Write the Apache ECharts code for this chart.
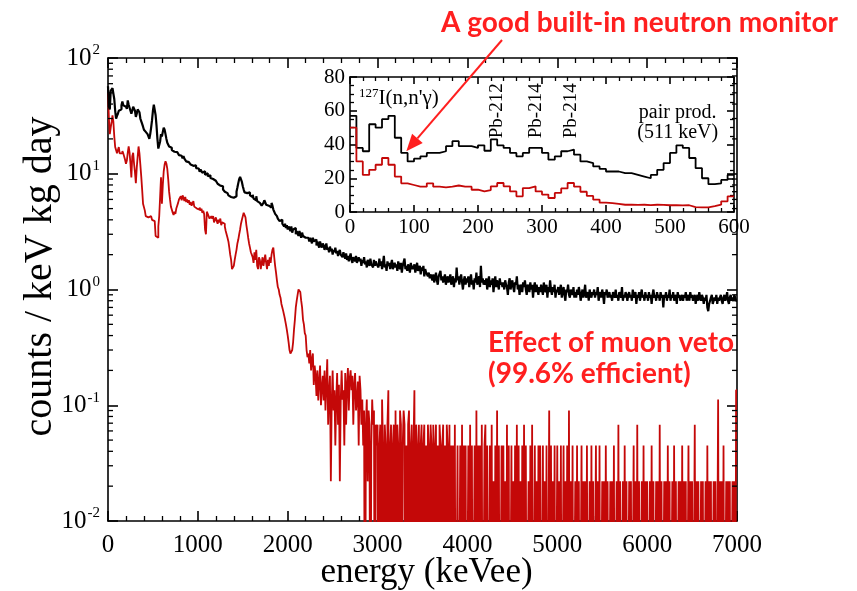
<!DOCTYPE html>
<html>
<head>
<meta charset="utf-8">
<script src="https://cdn.jsdelivr.net/npm/echarts@6/dist/echarts.min.js"></script>
<style>
  html, body { margin: 0; padding: 0; background: #ffffff; }
  #chart { width: 857px; height: 591px; }
</style>
</head>
<body>
<div id="chart"></div>
<script>
// Low-energy part of the spectrum, counts / keV kg day, 10 keV bins from 0 to 600 keV
const BIN_KEV = 10;
const lowAllEvents = [
  57, 38, 36, 52, 50, 55, 57, 44, 35, 30,
  31.6, 33, 35, 35, 36, 39, 42, 39, 39, 38,
  39.5, 36.3, 43, 39.5, 38, 35, 33, 35, 38, 38,
  35, 31, 33, 36, 37, 34, 30, 29, 27, 25.5,
  24, 24, 23, 23, 22, 21, 20, 22, 25, 29,
  35, 39.5, 38, 32, 26, 20, 16.5, 17, 19, 22
];
const lowVetoed = [
  50, 30, 22, 25, 28, 32, 28, 21, 17, 16,
  15, 15, 17, 15, 14.6, 15, 15.7, 15, 15, 13.2,
  12.2, 13, 15.2, 17.2, 15.2, 12.2, 9.3, 14.2, 15.2, 12.2,
  10.3, 8.3, 11.3, 14, 17.2, 15, 12, 9.5, 7.3, 5.5,
  5.3, 4.8, 4.3, 4.3, 4.2, 4.3, 4.1, 4.3, 4.2, 4.0,
  4.0, 3.9, 4.0, 2.9, 2.8, 2.8, 3.5, 4.3, 6.3, 9.3
];

// Rest of the spectrum, 10 keV bins from 600 to 7000 keV
const highAllEvents = [
  21, 23, 25, 24, 22, 20, 18.5, 17.8, 17.2, 16.6, 16.8, 16.0, 16.2, 15.5, 15.9, 15.2, 15.4, 14.9, 15.1, 14.5,
  14.8, 14.3, 14.0, 13.6, 14.2, 13.5, 13.2, 12.8, 13.1, 12.6, 12.3, 12.7, 12.0, 12.4, 11.7, 11.9, 11.5, 11.8, 11.2, 11.0,
  11.1, 10.7, 10.4, 10.9, 10.6, 10.2, 10.0, 10.5, 9.8, 9.6, 10.1, 9.5, 9.3, 9.7, 9.2, 9.5, 9.0, 9.3, 8.9, 8.7,
  8.9, 8.4, 8.2, 8.5, 7.9, 8.1, 7.6, 7.8, 7.3, 7.5, 7.0, 7.2, 6.8, 6.9, 6.5, 6.7, 6.3, 6.1, 6.4, 6.2,
  6.0, 6.2, 6.4, 7.0, 7.6, 8.3, 9.0, 9.4, 9.2, 8.5, 7.8, 7.3, 6.9, 7.1, 6.8, 7.0, 6.6, 6.9, 6.5, 6.7,
  6.3, 6.6, 6.1, 6.2, 5.9, 6.4, 5.8, 5.9, 5.6, 5.5, 5.7, 5.3, 5.5, 5.6, 5.9, 5.7, 5.4, 5.6, 5.3, 5.1,
  5.4, 5.1, 5.6, 5.3, 4.9, 4.7, 4.5, 4.6, 4.3, 4.1, 4.2, 3.9, 3.8, 4.0, 3.7, 3.6, 3.5, 3.7, 3.4, 3.6,
  3.3, 3.5, 3.4, 3.2, 3.5, 3.1, 3.3, 3.2, 3.4, 3.0, 3.2, 3.1, 2.9, 3.2, 3.0, 2.8, 3.1, 2.9, 3.0, 2.8,
  2.9, 2.7, 2.8, 2.9, 2.6, 2.8, 2.7, 2.5, 2.8, 2.6, 2.5, 2.7, 2.4, 2.6, 2.5, 2.3, 2.6, 2.4, 2.3, 2.5,
  2.4, 2.2, 2.35, 2.5, 2.2, 2.3, 2.1, 2.35, 2.15, 2.25, 2.0, 2.2, 2.1, 2.3, 2.05, 2.15, 1.95, 2.1, 2.2, 2.0,
  2.05, 1.9, 2.1, 1.95, 1.85, 2.05, 1.8, 1.95, 1.75, 1.9, 2.05, 1.8, 1.7, 1.9, 1.85, 1.75, 1.95, 1.7, 1.8, 1.9,
  1.75, 1.85, 1.6, 1.8, 1.7, 1.9, 1.65, 1.75, 1.55, 1.8, 1.7, 1.6, 1.85, 1.65, 1.7, 1.55, 1.8, 1.6, 1.75, 1.65,
  1.7, 1.55, 1.85, 1.6, 1.75, 1.5, 1.7, 1.95, 1.55, 1.65, 1.45, 1.75, 1.6, 1.7, 1.5, 1.65, 1.8, 1.5, 1.6, 1.7,
  1.55, 1.65, 1.45, 1.75, 1.6, 1.5, 1.7, 1.4, 1.6, 1.55, 1.85, 1.5, 1.6, 1.45, 1.65, 1.55, 1.4, 1.7, 1.5, 1.6,
  1.5, 1.65, 1.4, 1.55, 1.7, 1.45, 1.5, 1.6, 1.35, 1.55, 1.45, 1.6, 1.3, 1.5, 1.4, 1.45, 1.3, 1.4, 1.25, 1.35,
  1.3, 1.2, 1.35, 1.15, 1.25, 1.4, 1.2, 1.1, 1.3, 1.25, 1.45, 1.2, 1.3, 1.15, 1.25, 1.35, 1.1, 1.2, 1.3, 1.15,
  1.25, 1.35, 1.1, 1.2, 1.3, 1.05, 1.25, 1.15, 1.55, 1.2, 1.3, 1.1, 1.25, 1.35, 1.15, 1.0, 1.2, 1.3, 1.1, 1.25,
  1.15, 1.3, 1.05, 1.2, 1.35, 1.1, 1.2, 1.0, 1.25, 1.15, 1.4, 1.1, 1.2, 1.3, 1.05, 1.6, 1.15, 1.25, 1.1, 1.2,
  1.1, 1.25, 1.0, 1.15, 1.3, 1.05, 1.2, 1.1, 1.25, 0.95, 1.15, 1.3, 1.05, 1.2, 1.1, 1.0, 1.25, 1.1, 1.15, 1.05,
  1.15, 1.0, 1.2, 1.1, 1.05, 0.9, 1.15, 1.25, 1.0, 1.1, 1.2, 1.05, 0.95, 1.15, 1.1, 1.3, 1.0, 1.1, 0.9, 1.05,
  1.1, 0.95, 1.15, 1.05, 1.2, 1.0, 0.9, 1.1, 1.05, 0.95, 1.15, 1.0, 1.1, 0.85, 1.05, 1.15, 0.95, 1.1, 1.0, 0.9,
  1.05, 0.95, 1.1, 1.0, 0.9, 1.15, 1.0, 0.95, 1.1, 0.85, 1.05, 0.95, 1.2, 1.0, 0.9, 1.05, 0.95, 1.1, 0.85, 1.0,
  0.95, 1.05, 0.9, 1.0, 1.1, 0.85, 0.95, 1.05, 0.9, 0.8, 1.0, 0.95, 1.1, 0.9, 0.85, 1.0, 0.95, 0.9, 1.05, 0.85,
  0.95, 0.85, 1.0, 0.9, 1.05, 0.95, 0.8, 0.9, 1.0, 0.85, 0.95, 1.1, 0.85, 0.9, 0.95, 0.8, 1.0, 0.9, 0.85, 0.95,
  0.9, 1.0, 0.85, 0.95, 0.9, 1.05, 0.8, 0.9, 0.95, 0.85, 1.0, 0.9, 0.75, 0.95, 0.9, 1.0, 0.85, 0.9, 0.95, 0.85,
  0.9, 0.8, 0.95, 0.9, 0.85, 1.0, 0.85, 0.9, 0.8, 0.95, 0.9, 0.85, 1.05, 0.8, 0.9, 0.85, 0.95, 0.9, 0.8, 0.9,
  0.95, 0.85, 0.9, 0.8, 1.0, 0.85, 0.9, 0.95, 0.75, 0.9, 0.85, 0.95, 0.8, 0.9, 1.0, 0.85, 0.9, 0.8, 0.95, 0.85,
  0.9, 0.8, 0.95, 0.85, 0.9, 0.75, 0.9, 1.0, 0.85, 0.9, 0.8, 0.95, 0.85, 0.9, 0.8, 0.95, 0.85, 0.9, 0.7, 0.9,
  0.85, 0.95, 0.8, 0.9, 0.85, 1.0, 0.8, 0.9, 0.85, 0.95, 0.8, 0.85, 0.9, 0.75, 0.95, 0.85, 0.9, 0.8, 0.85, 0.9,
  0.8, 0.9, 0.85, 0.95, 0.8, 0.85, 0.9, 0.8, 0.95, 0.85, 0.9, 0.8, 0.85, 0.9, 0.75, 0.85, 0.9, 0.8, 0.95, 0.85,
  0.8, 0.9, 0.85, 0.75, 0.85, 0.8, 0.9, 0.7, 0.65, 0.75, 0.8, 0.85, 0.9, 0.75, 0.8, 0.85, 0.8, 0.9, 0.75, 0.85,
  0.8, 0.85, 0.9, 0.8, 0.75, 0.85, 0.9, 0.8, 0.85, 0.95, 0.8, 0.75, 0.85, 0.9, 0.8, 0.85, 0.8, 0.9, 0.85, 0.8
];
// After the muon veto; 0 marks an empty bin
const highVetoed = [
  5.5, 8.0, 10.5, 12.0, 12.8, 12.2, 11.0, 9.0, 7.0, 6.0, 5.2, 4.9, 4.6, 4.4, 4.7, 4.5, 5.0, 5.3, 5.6, 6.0,
  6.1, 6.4, 5.9, 6.5, 6.2, 5.8, 6.3, 5.7, 6.0, 5.6, 5.9, 5.4, 5.7, 5.3, 5.5, 5.8, 5.2, 5.4, 5.0, 5.1,
  5.2, 4.9, 5.1, 4.8, 5.0, 4.6, 4.8, 4.5, 3.3, 3.0, 4.7, 4.5, 4.4, 4.1, 4.0, 4.3, 4.1, 4.3, 3.8, 4.0,
  4.2, 3.9, 3.7, 4.0, 3.8, 4.1, 3.6, 3.8, 3.9, 3.7, 3.5, 3.2, 3.1, 2.8, 2.6, 2.3, 2.0, 1.8, 1.5, 1.45,
  1.6, 1.8, 2.0, 2.2, 2.5, 2.7, 3.0, 3.3, 3.7, 4.0, 4.3, 4.6, 4.5, 4.2, 3.6, 3.2, 2.8, 2.5, 2.3, 2.1,
  2.0, 1.9, 1.7, 2.1, 1.8, 2.2, 1.6, 1.5, 1.9, 1.8, 1.5, 1.7, 1.9, 1.6, 1.8, 2.0, 1.7, 1.5, 1.8, 1.6,
  1.9, 1.7, 2.0, 2.2, 2.3, 1.9, 1.6, 1.4, 1.2, 1.05, 1.0, 0.9, 0.85, 0.75, 0.7, 0.65, 0.6, 0.55, 0.5, 0.45,
  0.4, 0.35, 0.3, 0.28, 0.27, 0.3, 0.35, 0.45, 0.55, 0.7, 0.8, 0.9, 1.0, 1.0, 0.95, 0.8, 0.7, 0.55, 0.5, 0.42,
  0.4, 0.3, 0.26, 0.28, 0.23, 0.3, 0.2, 0.25, 0.28, 0.15, 0.22, 0.18, 0.12, 0.2, 0.11, 0.16, 0.22, 0.1, 0.14, 0.18,
  0.11, 0.2, 0.09, 0.15, 0.25, 0.068, 0.13, 0.18, 0.022, 0.11, 0.2, 0.09, 0.135, 0.045, 0.112, 0.19, 0.068, 0.15, 0.022, 0.11,
  0.2, 0.112, 0.135, 0.045, 0.19, 0.068, 0.15, 0.21, 0.09, 0.17, 0.2, 0.135, 0.18, 0.068, 0.15, 0.19, 0.09, 0.112, 0.16, 0.045,
  0.18, 0.135, 0.068, 0.112, 0.045, 0.09, 0, 0.068, 0.112, 0.022, 0.09, 0.068, 0, 0.045, 0.112, 0.068, 0.09, 0, 0.068, 0.045,
  0.068, 0, 0.045, 0.068, 0, 0.112, 0.045, 0, 0.068, 0.045, 0, 0.068, 0.135, 0, 0.045, 0.068, 0, 0.045, 0.068, 0,
  0.09, 0, 0.068, 0.045, 0, 0.09, 0.068, 0, 0.045, 0.09, 0.068, 0, 0.045, 0, 0.068, 0.09, 0, 0.045, 0.068, 0,
  0.045, 0.135, 0, 0.068, 0.045, 0, 0.068, 0, 0.045, 0.068, 0, 0.045, 0.068, 0, 0.045, 0, 0.068, 0.045, 0, 0.068,
  0.045, 0, 0.068, 0, 0.045, 0.068, 0, 0.045, 0, 0.068, 0.045, 0, 0.045, 0.068, 0, 0.045, 0, 0.068, 0.045, 0,
  0.068, 0, 0.045, 0, 0.045, 0, 0.068, 0, 0, 0.045, 0, 0, 0.045, 0, 0.068, 0, 0.045, 0, 0.045, 0,
  0, 0.045, 0, 0.068, 0, 0.045, 0, 0, 0.045, 0, 0.09, 0, 0.045, 0, 0.045, 0, 0.068, 0, 0, 0.045,
  0.068, 0, 0.045, 0, 0, 0.045, 0, 0.068, 0, 0.022, 0, 0.045, 0, 0.09, 0, 0.045, 0, 0, 0.045, 0,
  0.045, 0, 0.022, 0, 0.068, 0, 0.045, 0, 0, 0.045, 0, 0.022, 0, 0.045, 0, 0.068, 0, 0.045, 0, 0.022,
  0, 0.045, 0, 0.068, 0, 0.045, 0, 0, 0.022, 0, 0.045, 0, 0.068, 0, 0, 0.045, 0, 0.022, 0, 0.045,
  0, 0.045, 0, 0, 0.045, 0, 0.022, 0, 0.045, 0, 0, 0.09, 0, 0.045, 0, 0.022, 0, 0.045, 0, 0,
  0.045, 0, 0.022, 0, 0.045, 0, 0, 0.045, 0, 0.022, 0, 0.045, 0, 0.09, 0, 0.022, 0, 0.045, 0, 0,
  0.022, 0, 0.045, 0, 0.022, 0, 0, 0.045, 0, 0.022, 0, 0.022, 0, 0.045, 0, 0, 0.022, 0, 0.045, 0,
  0.022, 0, 0, 0.045, 0, 0.022, 0, 0.045, 0, 0, 0.022, 0, 0.022, 0, 0.045, 0, 0.022, 0, 0, 0.022,
  0, 0.022, 0, 0.045, 0, 0, 0.022, 0, 0.068, 0, 0.022, 0, 0, 0.022, 0, 0.045, 0, 0.022, 0, 0,
  0.022, 0, 0.022, 0, 0, 0.045, 0, 0.022, 0, 0.068, 0, 0.022, 0, 0, 0.022, 0, 0.045, 0, 0.022, 0,
  0.022, 0, 0, 0.022, 0, 0.045, 0, 0.022, 0, 0, 0.022, 0, 0.022, 0, 0.068, 0, 0.022, 0, 0, 0.022,
  0, 0.022, 0, 0.045, 0, 0.022, 0, 0, 0.022, 0, 0.045, 0, 0.022, 0, 0, 0.022, 0, 0.022, 0, 0.045,
  0, 0.022, 0, 0.022, 0, 0, 0.045, 0, 0.022, 0, 0.022, 0, 0, 0.068, 0, 0.022, 0, 0.022, 0, 0,
  0.022, 0, 0.022, 0, 0, 0.022, 0, 0.045, 0, 0.022, 0, 0.022, 0, 0, 0.022, 0, 0.022, 0, 0, 0.112,
  0, 0.022, 0, 0.022, 0, 0.045, 0, 0, 0.022, 0, 0.022, 0, 0.022, 0, 0, 0.022, 0, 0.022, 0, 0.135
];

// Axis ticks
const rateDecades = [0.01, 0.1, 1, 10, 100];
const rateMinorTicks = [];
rateDecades.slice(0, -1).forEach(d => { for (let m = 2; m <= 9; m++) rateMinorTicks.push(+(d * m).toPrecision(3)); });

// Inset labels (keV position, height in counts)
const peakLabels = [
  { text: 'Pb-212', keV: 230 },
  { text: 'Pb-214', keV: 290 },
  { text: 'Pb-214', keV: 345 }
];
const NEUTRON_ARROW_TARGET = [88, 36];

const SERIF = '"Liberation Serif", "Times New Roman", serif';
const NOTE_FONT = 'Lato, "Noto Sans", sans-serif';
const NOTE_RED = '#ff1f1f';
const LINE_RED = '#c40808';
const EMPTY_BIN_FLOOR = 1e-4; // empty bins fall below the lower axis edge and are clipped

function stepPoints(values, width, floorZero) {
  const pts = values.map((v, i) => [i * width, (floorZero && v <= 0) ? EMPTY_BIN_FLOOR : v]);
  pts.push([values.length * width, pts[pts.length - 1][1]]);
  return pts;
}

const chart = echarts.init(document.getElementById('chart'), null, { renderer: 'canvas' });

const black = { color: '#000', width: 1.6 };
function linearAxis(gridIndex, min, max, interval, split, pos, tickLen, minorLen, labelOpts) {
  return {
    type: 'value', gridIndex, min, max, interval, position: pos,
    axisLine: { show: true, onZero: false, lineStyle: black },
    axisTick: { show: true, inside: true, length: tickLen, lineStyle: black },
    minorTick: { show: true, splitNumber: split, length: minorLen, lineStyle: { color: '#000', width: 1.3 } },
    splitLine: { show: false }, minorSplitLine: { show: false },
    axisLabel: labelOpts || { show: false }
  };
}

const supRich = {
  b: { fontFamily: SERIF, fontSize: 25, color: '#000', lineHeight: 30 },
  e: { fontFamily: SERIF, fontSize: 15, color: '#000', lineHeight: 30, verticalAlign: 'top', padding: [0, 0, 0, 1] }
};

function logAxis(pos, withLabels) {
  const ax = {
    type: 'log', logBase: 10, gridIndex: 0, min: 0.01, max: 100, position: pos,
    axisLine: { show: true, onZero: false, lineStyle: black },
    axisTick: { show: true, inside: true, length: 10, lineStyle: black },
    splitLine: { show: false },
    axisLabel: { show: false }
  };
  if (withLabels) {
    ax.axisLabel = {
      show: true, margin: 8,
      formatter: v => '{b|10}{e|' + Math.round(Math.log10(v)) + '}',
      rich: supRich
    };
    ax.name = 'counts / keV kg day';
    ax.nameLocation = 'middle';
    ax.nameGap = 48;
    ax.nameMoveOverlap = false;
    ax.nameTextStyle = { fontFamily: SERIF, fontSize: 40, color: '#000', padding: [0, 0, 0, 26] };
  }
  return ax;
}

const plainNumber = v => String(v);

const option = {
  animation: false,
  backgroundColor: '#ffffff',
  textStyle: { fontFamily: SERIF },
  grid: [
    { left: 108, top: 58, right: 120, bottom: 70, containLabel: false, outerBoundsMode: 'none' },
    { left: 350, top: 77, width: 384, height: 135, containLabel: false, outerBoundsMode: 'none',
      show: true, backgroundColor: '#ffffff', borderWidth: 0 }
  ],
  xAxis: [
    Object.assign(linearAxis(0, 0, 7000, 1000, 5, 'bottom', 10, 5, {
      show: true, margin: 12, fontFamily: SERIF, fontSize: 25, color: '#000', formatter: plainNumber
    }), {
      name: 'energy (keVee)', nameLocation: 'middle', nameGap: 34, nameMoveOverlap: false,
      nameTextStyle: { fontFamily: SERIF, fontSize: 35, color: '#000', padding: [0, 0, 0, 8] }
    }),
    linearAxis(0, 0, 7000, 1000, 5, 'top', 10, 5),
    linearAxis(1, 0, 600, 100, 5, 'bottom', 7, 4, {
      show: true, margin: 5, fontFamily: SERIF, fontSize: 21, color: '#000', formatter: plainNumber
    }),
    linearAxis(1, 0, 600, 100, 5, 'top', 7, 4)
  ],
  yAxis: [
    logAxis('left', true),
    logAxis('right', false),
    linearAxis(1, 0, 80, 20, 4, 'left', 7, 4, {
      show: true, margin: 5, fontFamily: SERIF, fontSize: 21, color: '#000'
    }),
    linearAxis(1, 0, 80, 20, 4, 'right', 7, 4)
  ],
  series: [
    {
      name: 'all events', type: 'line', step: 'end', xAxisIndex: 0, yAxisIndex: 0,
      data: stepPoints(lowAllEvents.concat(highAllEvents), BIN_KEV, false), showSymbol: false, clip: true,
      lineStyle: { color: '#000', width: 2.2 }, z: 3
    },
    {
      name: 'muon vetoed', type: 'line', step: 'end', xAxisIndex: 0, yAxisIndex: 0,
      data: stepPoints(lowVetoed.concat(highVetoed), BIN_KEV, true), showSymbol: false, clip: true,
      lineStyle: { color: LINE_RED, width: 1.8 }, z: 2
    },
    {
      name: 'all events (low energy)', type: 'line', step: 'end', xAxisIndex: 2, yAxisIndex: 2,
      data: stepPoints(lowAllEvents, BIN_KEV, false), showSymbol: false, clip: true,
      lineStyle: { color: '#000', width: 1.8 }, z: 5
    },
    {
      name: 'muon vetoed (low energy)', type: 'line', step: 'end', xAxisIndex: 2, yAxisIndex: 2,
      data: stepPoints(lowVetoed, BIN_KEV, false), showSymbol: false, clip: true,
      lineStyle: { color: LINE_RED, width: 1.8 }, z: 5
    }
  ]
};
chart.setOption(option);

const gfx = [];

// Minor ticks of the logarithmic axis, on both sides of the main frame
const xLeft = chart.convertToPixel({ xAxisIndex: 0 }, 0);
const xRight = chart.convertToPixel({ xAxisIndex: 0 }, 7000);
rateMinorTicks.forEach(v => {
  const y = chart.convertToPixel({ yAxisIndex: 0 }, v);
  gfx.push({ type: 'line', z: 10, silent: true, shape: { x1: xLeft, y1: y, x2: xLeft + 5, y2: y }, style: { stroke: '#000', lineWidth: 1.3 } });
  gfx.push({ type: 'line', z: 10, silent: true, shape: { x1: xRight, y1: y, x2: xRight - 5, y2: y }, style: { stroke: '#000', lineWidth: 1.3 } });
});

// Inset annotations placed through the inset's own scales
const inset = { xAxisIndex: 2, yAxisIndex: 2 };
peakLabels.forEach(p => {
  const pt = chart.convertToPixel(inset, [p.keV, 60]);
  gfx.push({
    type: 'text', x: pt[0], y: pt[1], rotation: Math.PI / 2, z: 20,
    style: { text: p.text, fontFamily: SERIF, fontSize: 19, fill: '#000', align: 'center', verticalAlign: 'middle' }
  });
});
const iso = chart.convertToPixel(inset, [14, 67]);
gfx.push({
  type: 'text', x: iso[0], y: iso[1], z: 20,
  style: {
    text: '{s|127}{b|I(n,n\'\u03b3)}', verticalAlign: 'middle',
    rich: {
      s: { fontFamily: SERIF, fontSize: 13, fill: '#000', lineHeight: 23, verticalAlign: 'top' },
      b: { fontFamily: SERIF, fontSize: 21, fill: '#000', lineHeight: 23 }
    }
  }
});
const pp = chart.convertToPixel(inset, [512, 53]);
gfx.push({
  type: 'text', x: pp[0], y: pp[1], z: 20,
  style: { text: 'pair prod.\n(511 keV)', fontFamily: SERIF, fontSize: 20, lineHeight: 20, fill: '#000', align: 'center', verticalAlign: 'middle' }
});

// Red notes and arrow
gfx.push({
  type: 'text', x: 441, y: 9, z: 30,
  style: { text: 'A good built-in neutron monitor', fontFamily: NOTE_FONT, fontWeight: 'bold', fontSize: 28, fill: NOTE_RED }
});
gfx.push({
  type: 'text', x: 488, y: 327, z: 30,
  style: { text: 'Effect of muon veto\n(99.6% efficient)', fontFamily: NOTE_FONT, fontWeight: 'bold', fontSize: 28, lineHeight: 31, fill: NOTE_RED }
});
const tip = chart.convertToPixel(inset, NEUTRON_ARROW_TARGET);
const start = [502, 40];
const dx = tip[0] - start[0], dy = tip[1] - start[1];
const len = Math.hypot(dx, dy), ux = dx / len, uy = dy / len;
const headLen = 17, headHalf = 7;
const base = [tip[0] - ux * headLen, tip[1] - uy * headLen];
gfx.push({
  type: 'line', z: 30,
  shape: { x1: start[0], y1: start[1], x2: base[0], y2: base[1] },
  style: { stroke: NOTE_RED, lineWidth: 2 }
});
gfx.push({
  type: 'polygon', z: 30,
  shape: { points: [tip, [base[0] - uy * headHalf, base[1] + ux * headHalf], [base[0] + uy * headHalf, base[1] - ux * headHalf]] },
  style: { fill: NOTE_RED }
});
chart.setOption({ graphic: gfx });
</script>
</body>
</html>
